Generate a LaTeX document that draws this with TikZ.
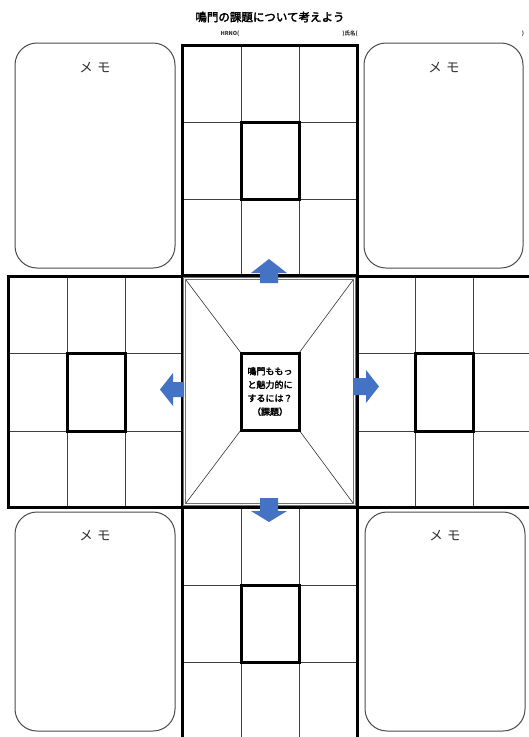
\documentclass[tikz,border=0pt]{standalone}
\usepackage{fontspec}
\setmainfont{Noto Sans CJK JP}
\newfontfamily\jpb[FakeBold=2.5]{Noto Sans CJK JP}
\begin{document}
\begin{tikzpicture}[x=1pt,y=-1pt,
  outer/.style={line width=3pt,draw=black},
  inner/.style={line width=3pt,draw=black},
  gridln/.style={line width=1pt,draw=black!75},
  memo/.style={draw=black!70,line width=1pt,rounded corners=22pt},
  memotxt/.style={font=\fontsize{13.5}{14}\selectfont,text=black!80},
  diag/.style={line width=0.6pt,draw=black!80}]
\useasboundingbox (0,0) rectangle (528,737);
\fill[white] (0,0) rectangle (528,737);
\definecolor{arr}{HTML}{4472C4}
% title
\node[font=\jpb\fontsize{11.5}{12}\selectfont] (title) at (270,17) {鳴門の課題について考えよう};
\node[font=\bfseries\fontsize{5.5}{6}\selectfont,text=black!80] (hr) at (230,34) {HRNO(};
\node[font=\bfseries\fontsize{5.5}{6}\selectfont,text=black!80] (nm) at (350,34) {)氏名(};
\node[font=\bfseries\fontsize{5.5}{6}\selectfont,text=black!80] (cl) at (523,34) {)};
% memo boxes
\draw[memo] (15,43) rectangle (175,268);
\node[memotxt] (m1) at (95,68) {メ\,\,モ};
\draw[memo] (364,43) rectangle (523,268);
\node[memotxt] (m2) at (444,68) {メ\,\,モ};
\draw[memo] (15,512) rectangle (175,731);
\node[memotxt] (m3) at (95,536) {メ\,\,モ};
\draw[memo] (365,512) rectangle (525,731);
\node[memotxt] (m4) at (445,536) {メ\,\,モ};
% top grid
\draw[gridln] (241,45)--(241,275) (299,45)--(299,275) (182,122)--(357,122) (182,199)--(357,199);
\draw[outer] (182,45) rectangle (357,275);
\draw[inner] (241,122) rectangle (299,199);
% left grid
\draw[gridln] (67,276)--(67,507) (125,276)--(125,507) (8,353)--(182,353) (8,431)--(182,431);
\draw[outer] (8,276) rectangle (182,507);
\draw[inner] (67,353) rectangle (125,431);
% right grid
\draw[gridln] (415,276)--(415,507) (473,276)--(473,507) (357,353)--(540,353) (357,431)--(540,431);
\draw[outer] (357,276) -- (540,276) (357,507) -- (540,507) (357,276)--(357,507);
\draw[inner] (415,353) rectangle (473,431);
% bottom grid
\draw[gridln] (241,507)--(241,750) (299,507)--(299,750) (182,585)--(357,585) (182,662)--(357,662);
\draw[outer] (182,507)--(182,750) (357,507)--(357,750) (182,507)--(357,507);
\draw[inner] (241,585) rectangle (299,662);
% center
\fill[white] (183.7,277.7) rectangle (355.3,505.3);
\draw[draw=black!55,line width=0.8pt] (183.6,277.6) rectangle (355.4,505.4);
\draw[draw=black!55,line width=0.8pt] (185.5,279.5) rectangle (353.5,503.5);
\draw[diag] (186,280)--(241,353) (353,280)--(299,353) (186,503)--(241,430) (353,503)--(299,430);
\node[draw=black,line width=3pt,minimum width=58pt,minimum height=77pt,inner sep=0pt,
  font=\jpb\fontsize{9}{13.5}\selectfont,align=center] (core) at (270,391.5)
  {鳴門ももっ\\と魅力的に\\するには？\\（課題）};
% arrows
\fill[arr] (260,283)--(260,273)--(251,273)--(269,259)--(287,273)--(278,273)--(278,283)--cycle;
\fill[arr] (260,498)--(260,511)--(251,511)--(269,522)--(287,511)--(278,511)--(278,498)--cycle;
\fill[arr] (353,378)--(366,378)--(366,370)--(379,386.5)--(366,403)--(366,395)--(353,395)--cycle;
\fill[arr] (184,382)--(173,382)--(173,373)--(160,389.5)--(173,406)--(173,397)--(184,397)--cycle;
\end{tikzpicture}
\end{document}
